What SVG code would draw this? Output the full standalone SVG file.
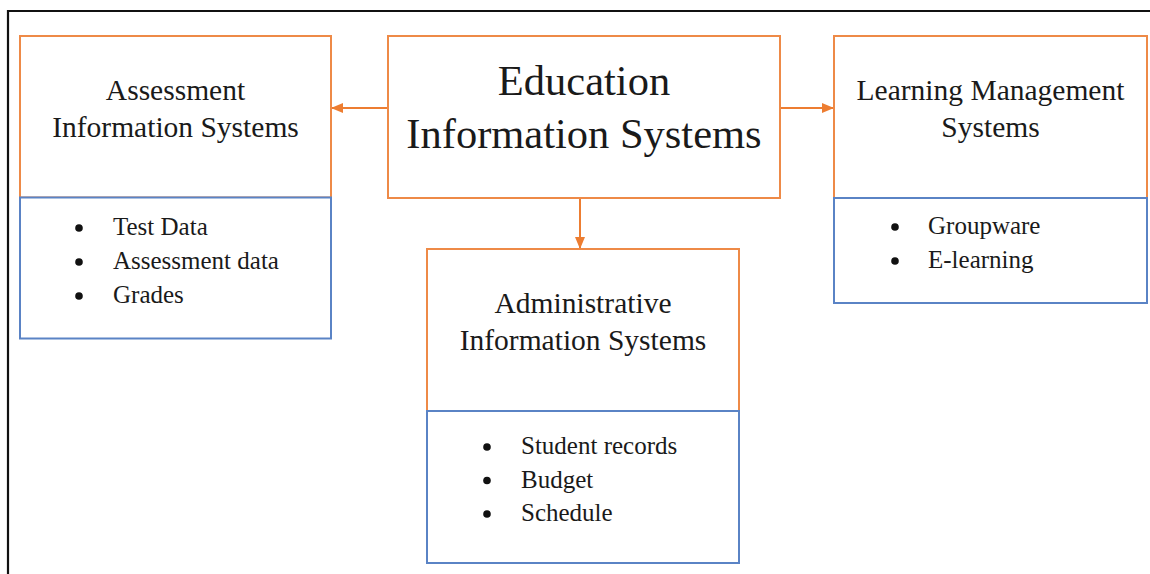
<svg xmlns="http://www.w3.org/2000/svg" width="1150" height="574" viewBox="0 0 1150 574">
<style>
.bg{fill:#ffffff}
.frame{fill:none;stroke:#111111;stroke-width:2.2}
.top{fill:#ffffff;stroke:#EE8A47;stroke-width:2}
.bot{fill:#ffffff;stroke:#5A83C5;stroke-width:2}
.conn{fill:none;stroke:#ED7D31;stroke-width:2}
.t{font-family:"Liberation Serif","Times New Roman",serif;fill:#1a1a1a;text-anchor:middle}
.h{font-size:29.5px}
.hb{font-size:42.5px}
.li{font-family:"Liberation Serif","Times New Roman",serif;fill:#1a1a1a;font-size:25px}
.dot{fill:#111111}
</style>
<defs>
<marker id="arr" viewBox="0 0 12 10" refX="11" refY="5" markerWidth="12" markerHeight="10" markerUnits="userSpaceOnUse" orient="auto">
<path d="M0,0 L12,5 L0,10 Z" fill="#ED7D31"/>
</marker>
</defs>
<rect class="bg" x="0" y="0" width="1150" height="574"/>
<path class="frame" d="M8,574 V11 H1150"/>

<g id="connectors">
<line class="conn" x1="388" y1="108" x2="332" y2="108" marker-end="url(#arr)"/>
<line class="conn" x1="780" y1="108" x2="833" y2="108" marker-end="url(#arr)"/>
<line class="conn" x1="580" y1="198" x2="580" y2="248" marker-end="url(#arr)"/>
</g>

<g id="education">
<rect class="top" x="388" y="36" width="392" height="162"/>
<text class="t hb" x="584" y="95">Education</text>
<text class="t hb" x="584" y="148">Information Systems</text>
</g>

<g id="assessment">
<rect class="top" x="20" y="36" width="311" height="161.5"/>
<rect class="bot" x="20" y="197.5" width="311" height="141"/>
<text class="t h" x="175.5" y="100">Assessment</text>
<text class="t h" x="175.5" y="137">Information Systems</text>
<circle class="dot" cx="79" cy="228" r="3.8"/>
<circle class="dot" cx="79" cy="262" r="3.8"/>
<circle class="dot" cx="79" cy="296" r="3.8"/>
<text class="li" x="113" y="235">Test Data</text>
<text class="li" x="113" y="269">Assessment data</text>
<text class="li" x="113" y="303">Grades</text>
</g>

<g id="lms">
<rect class="top" x="834" y="36" width="313" height="162"/>
<rect class="bot" x="834" y="198" width="313" height="105"/>
<text class="t h" x="990.5" y="100">Learning Management</text>
<text class="t h" x="990.5" y="137">Systems</text>
<circle class="dot" cx="895" cy="227" r="3.8"/>
<circle class="dot" cx="895" cy="261" r="3.8"/>
<text class="li" x="928" y="234">Groupware</text>
<text class="li" x="928" y="268">E-learning</text>
</g>

<g id="administrative">
<rect class="top" x="427" y="249" width="312" height="162"/>
<rect class="bot" x="427" y="411" width="312" height="152"/>
<text class="t h" x="583" y="313">Administrative</text>
<text class="t h" x="583" y="350">Information Systems</text>
<circle class="dot" cx="487" cy="447" r="3.8"/>
<circle class="dot" cx="487" cy="480.5" r="3.8"/>
<circle class="dot" cx="487" cy="514" r="3.8"/>
<text class="li" x="521" y="454">Student records</text>
<text class="li" x="521" y="487.5">Budget</text>
<text class="li" x="521" y="521">Schedule</text>
</g>
</svg>
